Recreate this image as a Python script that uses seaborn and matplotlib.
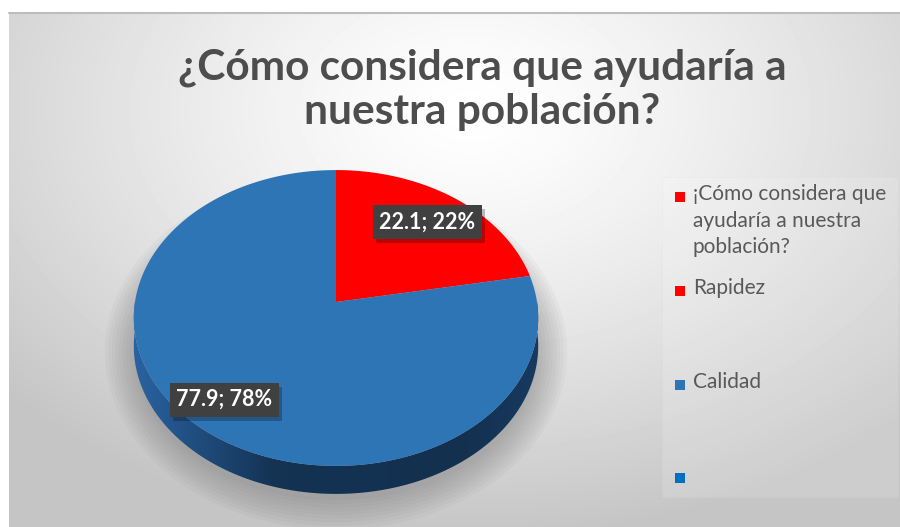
import textwrap
import numpy as np
import matplotlib
matplotlib.use("Agg")
import matplotlib.pyplot as plt
import matplotlib.patheffects as pe
from matplotlib.patches import Polygon, Ellipse, Rectangle
import seaborn as sns

# data
categories = ["¡Cómo considera que ayudaría a nuestra población?", "Rapidez", "Calidad", ""]
values = [0, 22.1, 77.9, 0]
colors = ["#FF0000", "#FF0000", "#2E75B6", "#0070C0"]
title = "¿Cómo considera que ayudaría a\nnuestra población?"

sns.set_style("white")
plt.rcParams["font.family"] = ["Lato", "DejaVu Sans"]

W, H = 900, 527
fig = plt.figure(figsize=(9, 5.27), dpi=100)
fig.patch.set_facecolor("white")

# chart area background (soft radial gradient)
bg = fig.add_axes([9 / W, 0, 1 - 9 / W, 515 / H])
yy, xx = np.mgrid[12:527, 9:900]
d = np.sqrt(((xx - 470) / 620) ** 2 + ((yy - 110) / 430) ** 2)
shade = 1 - 0.23 * np.clip(d, 0, 1) ** 1.3
bg.imshow(shade, cmap="gray", vmin=0, vmax=1, aspect="auto")
bg.axis("off")
fig.add_artist(plt.Line2D([9 / W, 1], [1 - 12.5 / H, 1 - 12.5 / H], color="#bdbdbd", lw=1.5))

# pie axes, pixels mapped to screen units; k gives the 3D perspective tilt
cx, cy, rx, s, k = 336, 302, 201, 146.2, 0.108
depth = 28 / s


def proj(x, y):
    den = 1 + k * np.asarray(y)
    return np.asarray(x) / den, np.asarray(y) / den


ax = fig.add_axes([0, 0, 1, 1])
ax.patch.set_alpha(0)

# soft shadow under the pie
for i in range(9):
    ax.add_patch(Ellipse((0, -0.11 - depth - 0.04), 2.02 + 0.035 * i, 2.03 + 0.05 * i,
                         color="#5a5a5a", alpha=0.045, lw=0, zorder=0))

# cylinder side with a horizontal gradient
th = np.linspace(np.pi, 2 * np.pi, 200)
tx, ty = proj(np.cos(th), np.sin(th))
side = np.vstack([np.c_[tx, ty], np.c_[tx[::-1], ty[::-1] - depth]])
side_poly = Polygon(side, closed=True, fc="none", ec="none")
ax.add_patch(side_poly)
grad = np.interp(np.linspace(-1, 1, 300), [-1, -0.75, -0.3, 0.6, 1],
                 [0.0, 0.35, 0.95, 1.0, 0.8])[None, :]
side_cmap = matplotlib.colors.LinearSegmentedColormap.from_list("side", ["#2a64a3", "#13304f"])
im = ax.imshow(grad, cmap=side_cmap, vmin=0, vmax=1, extent=[-1.02, 1.02, ty.min() - depth - 0.02, 0.05],
               aspect="auto", zorder=1)
im.set_clip_path(side_poly)

# pie from matplotlib, then tilted into perspective
wedges, _ = ax.pie(values, colors=colors, startangle=90, counterclock=False,
                   wedgeprops=dict(linewidth=0), radius=1)
for w in wedges:
    if w.theta2 - w.theta1 < 1e-6:
        w.remove()
        continue
    a = np.deg2rad(np.linspace(w.theta1, w.theta2, 300))
    wx = np.r_[w.center[0], w.center[0] + w.r * np.cos(a)]
    wy = np.r_[w.center[1], w.center[1] + w.r * np.sin(a)]
    px, py = proj(wx, wy)
    ax.add_patch(Polygon(np.c_[px, py], closed=True, fc=w.get_facecolor(), ec="none", zorder=2))
    w.remove()

# data labels
label_dist = [0, 0.755, 0.81, 0]
total = sum(values)
cum = 0
for v, r in zip(values, label_dist):
    if v > 0:
        mid = np.deg2rad(90 - 360 * (cum + v / 2) / total)
        lx, ly = proj(r * np.cos(mid), r * np.sin(mid))
        t = ax.text(lx, ly, f"{v:.1f}; {round(100 * v / total)}%", ha="center", va="center",
                    color="white", fontsize=15.5, fontweight="bold", zorder=5,
                    bbox=dict(boxstyle="square,pad=0.3", fc="#404040", ec="none"))
        t.get_bbox_patch().set_path_effects(
            [pe.SimplePatchShadow(offset=(2.5, -3), shadow_rgbFace="black", alpha=0.25), pe.Normal()])
    cum += v

ax.set_aspect("auto")
ax.set_xlim(-cx / rx, (W - cx) / rx)
ax.set_ylim((cy - H) / s, cy / s)
ax.axis("off")

# title
fig.text(482 / W, 1 - 90 / H, title, ha="center", va="center", fontsize=30.5,
         fontweight="bold", color="#4d4d4d", linespacing=1.18)

# legend box and entries
fig.add_artist(Rectangle((662 / W, 1 - 497 / H), 236 / W, 320 / H, fc="white", alpha=0.15,
                         ec="#d4d4d4", lw=0.6, transform=fig.transFigure))
marker_y = [197, 291, 385, 478]
for lab, col, my in zip(categories, colors, marker_y):
    fig.add_artist(Rectangle((675 / W, 1 - (my + 5) / H), 10 / W, 10 / H, fc=col, ec="none",
                             transform=fig.transFigure))
    fig.text(693 / W, 1 - (my - 13) / H, "\n".join(textwrap.wrap(lab, 19)), ha="left", va="top",
             fontsize=15, color="#595959", linespacing=1.41)

fig.savefig("out.png", dpi=100)
